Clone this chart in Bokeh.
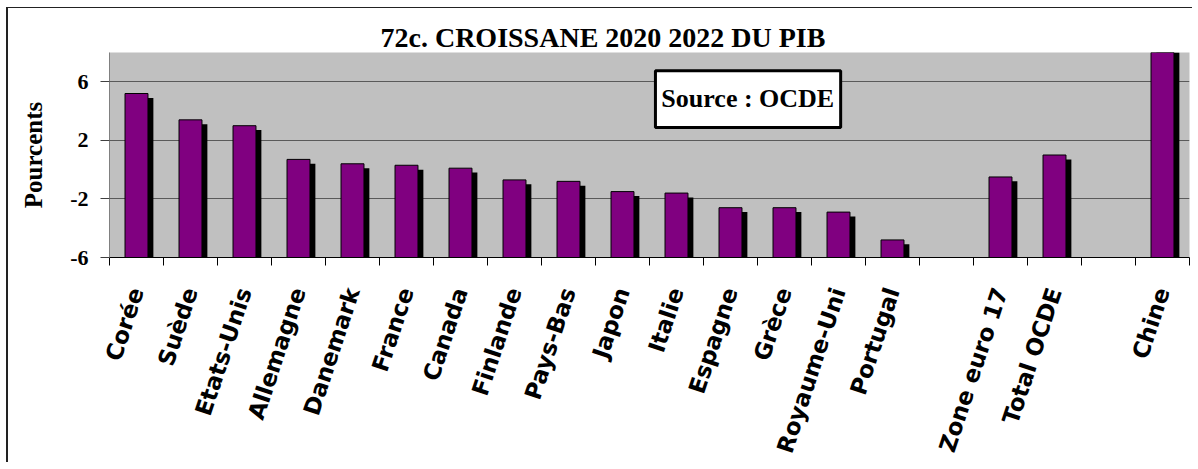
from bokeh.plotting import figure
from bokeh.models import (Range1d, FactorRange, LinearAxis, FixedTicker, Label,
                          BoxAnnotation, ColumnDataSource, Title)
from bokeh.transform import dodge
from bokeh.embed import file_html
from bokeh.resources import INLINE

title_text = "72c. CROISSANE 2020 2022 DU PIB"
source_text = "Source : OCDE"
y_label = "Pourcents"

categories = ["Corée", "Suède", "Etats-Unis", "Allemagne", "Danemark", "France",
              "Canada", "Finlande", "Pays-Bas", "Japon", "Italie", "Espagne",
              "Grèce", "Royaume-Uni", "Portugal", " ", "Zone euro 17",
              "Total OCDE", "  ", "Chine"]
values = [5.2, 3.4, 3.0, 0.7, 0.4, 0.3, 0.1, -0.7, -0.8, -1.5, -1.6, -2.6,
          -2.6, -2.9, -4.8, None, -0.5, 1.0, None, 13.0]

y_ticks = [-6, -2, 2, 6]
y_tick_labels = ["-6", "-2", "2", "6"]
y_min, y_max = -6, 8

cats = [c for c, v in zip(categories, values) if v is not None]
vals = [v for v in values if v is not None]
src = ColumnDataSource(data=dict(cat=cats, value=vals))

n = len(categories)
p = figure(width=1186, height=455,
           x_range=FactorRange(factors=categories),
           y_range=Range1d(y_min, y_max),
           x_axis_type=None,
           output_backend="svg", toolbar_location=None,
           min_border_left=101, min_border_top=44, min_border_right=5,
           min_border_bottom=206)

p.background_fill_color = "#c0c0c0"
p.border_fill_color = "white"
p.outline_line_color = None
p.styles = {"position": "absolute", "left": "6px", "top": "7px",
            "border-left": "2px solid #222222", "border-top": "1px solid #222222"}

p.title = Title(text=title_text, align="left", offset=271, standoff=0,
                text_font="Liberation Serif", text_font_style="bold",
                text_font_size="28px", text_color="black",
                text_baseline="alphabetic")

# shadow bars
p.vbar(x=dodge("cat", 0.1, range=p.x_range), top=dodge("value", -0.3),
       bottom=y_min, width=0.425, source=src,
       fill_color="black", line_color=None)
# main bars
p.vbar(x="cat", top="value", bottom=y_min, width=0.425, source=src,
       fill_color="#800080", line_color="black", line_width=1)

# y axis
ya = p.yaxis[0]
ya.ticker = FixedTicker(ticks=y_ticks, minor_ticks=[])
ya.major_label_overrides = {t: l for t, l in zip(y_ticks, y_tick_labels)}
ya.major_label_text_font = "Liberation Serif"
ya.major_label_text_font_style = "bold"
ya.major_label_text_font_size = "22px"
ya.major_label_text_color = "black"
ya.major_tick_out = 9
ya.major_tick_in = 0
ya.major_tick_line_color = "#404040"
ya.minor_tick_line_color = None
ya.axis_line_color = "#808080"
ya.major_label_standoff = 12
ya.axis_label = y_label
ya.axis_label_text_font = "Liberation Serif"
ya.axis_label_text_font_style = "bold"
ya.axis_label_text_font_size = "25px"
ya.axis_label_text_color = "black"
ya.axis_label_standoff = 20

p.ygrid.grid_line_color = "#5a5a5a"
p.ygrid.grid_line_width = 1

# x axis: labels at slot centres (synthetic coords), ticks at slot boundaries
centers = [i + 0.5 for i in range(n)]
xa = LinearAxis(ticker=FixedTicker(ticks=centers, minor_ticks=list(range(n + 1))),
                major_label_overrides={c: lab for c, lab in zip(centers, categories)})
xa.major_label_orientation = 1.25
xa.major_label_text_font = "DejaVu Sans"
xa.major_label_text_font_style = "bold"
xa.major_label_text_font_size = "23px"
xa.major_label_text_color = "black"
xa.major_label_standoff = 23
xa.major_tick_line_color = None
xa.major_tick_out = 0
xa.major_tick_in = 0
xa.minor_tick_out = 8
xa.minor_tick_in = 0
xa.minor_tick_line_color = "black"
xa.axis_line_color = "black"
p.add_layout(xa, "below")

# source box
p.add_layout(BoxAnnotation(left=10.11, right=13.54, bottom=2.88, top=6.75,
                           fill_color="white", fill_alpha=1,
                           line_color="black", line_width=3, line_alpha=1))
p.add_layout(Label(x=11.82, y=4.85, text=source_text,
                   text_align="center", text_baseline="middle",
                   text_font="Liberation Serif", text_font_style="bold",
                   text_font_size="26px", text_color="black"))

open("out.html", "w").write(file_html(p, INLINE))
